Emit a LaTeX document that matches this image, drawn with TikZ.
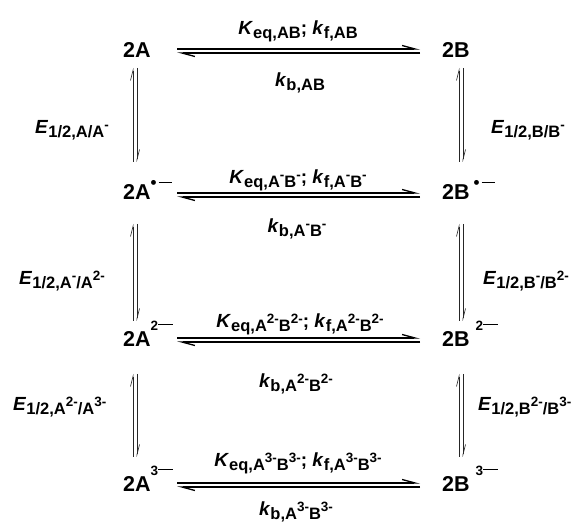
\documentclass[tikz,border=0pt]{standalone}
\usepackage{fontspec}
\setmainfont{Liberation Sans}
\usetikzlibrary{arrows.meta}
\newcommand\lw[1]{\raisebox{-4pt}{\fontsize{16.5}{16.5}\selectfont #1}}
\newcommand\hi[1]{\raisebox{8pt}{\fontsize{13.5}{13.5}\selectfont #1}}
\newcommand\rad{\raisebox{11pt}{\fontsize{17}{17}\selectfont\textbullet}\hspace{2pt}\rule[17pt]{13pt}{1.4pt}}
\newcommand\chg[1]{\raisebox{16pt}{\fontsize{13.5}{13.5}\selectfont #1}\rule[22pt]{15pt}{1.4pt}}
\tikzset{
  species/.style={anchor=base west,inner sep=0pt,font=\fontsize{21.5}{24}\selectfont\bfseries},
  lbl/.style={anchor=base,inner sep=0pt,font=\fontsize{19}{21}\selectfont\bfseries},
  elbl/.style={anchor=base west,inner sep=0pt,font=\fontsize{19}{21}\selectfont\bfseries},
  harp/.style={line width=1.3pt,-{Straight Barb[left,length=13pt,width=7pt]}},
  vharp/.style={line width=0.6pt,black!85,-{Straight Barb[left,length=10pt,width=5pt]}}
}
\begin{document}
\begin{tikzpicture}[x=1pt,y=-1pt]
\useasboundingbox (0,0) rectangle (579,526);
% species
\node[species] (a1) at (123,58) {2A};
\node[species] (b1) at (442,58) {2B};
\node[species] (a2) at (123,200) {2A\rad};
\node[species] (b2) at (442,200) {2B\hspace{4pt}\rad};
\node[species] (a3) at (123,347) {2A\chg{2}};
\node[species] (b3) at (442,347) {2B\hspace{6pt}\chg{2}};
\node[species] (a4) at (123,492) {2A\chg{3}};
\node[species] (b4) at (442,492) {2B\hspace{6pt}\chg{3}};
% horizontal equilibrium arrows
\foreach \r/\c in {1/51,2/195,3/340,4/485}{
  \coordinate (hl\r) at (177,\c);
  \coordinate (hr\r) at (420,\c);
  \draw[harp] ([yshift=2pt]hl\r) -- ([yshift=2pt]hr\r);
  \draw[harp] ([yshift=-2pt]hr\r) -- ([yshift=-2pt]hl\r);
}
% vertical equilibrium arrows
\foreach \s/\t/\b in {1/68/162,2/224/321,3/374/457}{
  \coordinate (lt\s) at (135,\t); \coordinate (lb\s) at (135,\b);
  \coordinate (rt\s) at (461,\t); \coordinate (rb\s) at (461,\b);
  \draw[vharp] ([xshift=-2pt]lb\s) -- ([xshift=-2pt]lt\s);
  \draw[vharp] ([xshift=2pt]lt\s) -- ([xshift=2pt]lb\s);
  \draw[vharp] ([xshift=-2pt]rb\s) -- ([xshift=-2pt]rt\s);
  \draw[vharp] ([xshift=2pt]rt\s) -- ([xshift=2pt]rb\s);
}
% horizontal labels
\node[lbl] (k1u) at (298,35) {\textit{K}\lw{eq,AB}; \textit{k}\lw{f,AB}};
\node[lbl] (k1d) at (300,87) {\textit{k}\lw{b,AB}};
\node[lbl] (k2u) at (298,184) {\textit{K}\lw{eq,A\hi{-}B\hi{-}}; \textit{k}\lw{f,A\hi{-}B\hi{-}}};
\node[lbl] (k2d) at (297,233) {\textit{k}\lw{b,A\hi{-}B\hi{-}}};
\node[lbl] (k3u) at (300,328) {\textit{K}\lw{eq,A\hi{2-}B\hi{2-}}; \textit{k}\lw{f,A\hi{2-}B\hi{2-}}};
\node[lbl] (k3d) at (296,388) {\textit{k}\lw{b,A\hi{2-}B\hi{2-}}};
\node[lbl] (k4u) at (298,467) {\textit{K}\lw{eq,A\hi{3-}B\hi{3-}}; \textit{k}\lw{f,A\hi{3-}B\hi{3-}}};
\node[lbl] (k4d) at (296,516) {\textit{k}\lw{b,A\hi{3-}B\hi{3-}}};
% vertical labels
\node[elbl] (e1l) at (35,134) {\textit{E}\lw{1/2,A/A\hi{-}}};
\node[elbl] (e1r) at (491,134) {\textit{E}\lw{1/2,B/B\hi{-}}};
\node[elbl] (e2l) at (19,285) {\textit{E}\lw{1/2,A\hi{-}/A\hi{2-}}};
\node[elbl] (e2r) at (483,285) {\textit{E}\lw{1/2,B\hi{-}/B\hi{2-}}};
\node[elbl] (e3l) at (13,411) {\textit{E}\lw{1/2,A\hi{2-}/A\hi{3-}}};
\node[elbl] (e3r) at (478,411) {\textit{E}\lw{1/2,B\hi{2-}/B\hi{3-}}};
\end{tikzpicture}
\end{document}
